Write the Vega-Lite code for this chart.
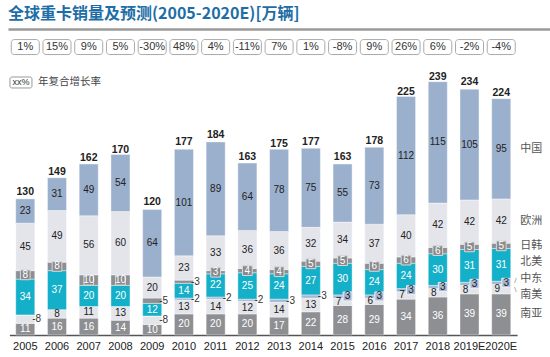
{
  "$schema": "https://vega.github.io/schema/vega-lite/v6.json",
  "width": 542,
  "height": 306,
  "autosize": {"type": "none"},
  "padding": {"left": 8, "top": 29, "right": 0, "bottom": 22},
  "background": "white",
  "title": {"text": "全球重卡销量及预测(2005-2020E)[万辆]", "anchor": "start", "frame": "group", "font": "Noto Sans CJK SC", "fontSize": 16, "fontWeight": "bold", "color": "#1d6ea6", "offset": 5},
  "config": {"view": {"stroke": null}, "font": "Liberation Sans Narrow, Liberation Sans, Noto Sans CJK SC"},
  "datasets": {
    "main": [
      {"year": "2005", "南亚": 11, "南美": 8, "中东": 0, "北美": 34, "日韩": 8, "欧洲": 45, "中国": 23},
      {"year": "2006", "南亚": 16, "南美": 8, "中东": 0, "北美": 37, "日韩": 8, "欧洲": 49, "中国": 31},
      {"year": "2007", "南亚": 16, "南美": 11, "中东": 0, "北美": 20, "日韩": 10, "欧洲": 56, "中国": 49},
      {"year": "2008", "南亚": 14, "南美": 13, "中东": 0, "北美": 20, "日韩": 10, "欧洲": 60, "中国": 54},
      {"year": "2009", "南亚": 10, "南美": 8, "中东": 0, "北美": 12, "日韩": 5, "欧洲": 20, "中国": 64},
      {"year": "2010", "南亚": 20, "南美": 13, "中东": 2, "北美": 14, "日韩": 3, "欧洲": 23, "中国": 101},
      {"year": "2011", "南亚": 20, "南美": 14, "中东": 2, "北美": 22, "日韩": 3, "欧洲": 33, "中国": 89},
      {"year": "2012", "南亚": 20, "南美": 12, "中东": 2, "北美": 25, "日韩": 4, "欧洲": 36, "中国": 64},
      {"year": "2013", "南亚": 17, "南美": 14, "中东": 3, "北美": 24, "日韩": 4, "欧洲": 36, "中国": 78},
      {"year": "2014", "南亚": 22, "南美": 13, "中东": 3, "北美": 27, "日韩": 5, "欧洲": 32, "中国": 75},
      {"year": "2015", "南亚": 28, "南美": 7, "中东": 3, "北美": 30, "日韩": 5, "欧洲": 34, "中国": 55},
      {"year": "2016", "南亚": 29, "南美": 6, "中东": 3, "北美": 24, "日韩": 6, "欧洲": 37, "中国": 73},
      {"year": "2017", "南亚": 34, "南美": 7, "中东": 3, "北美": 24, "日韩": 6, "欧洲": 40, "中国": 112},
      {"year": "2018", "南亚": 36, "南美": 8, "中东": 3, "北美": 30, "日韩": 6, "欧洲": 42, "中国": 115},
      {"year": "2019E", "南亚": 39, "南美": 8, "中东": 3, "北美": 31, "日韩": 5, "欧洲": 42, "中国": 105},
      {"year": "2020E", "南亚": 39, "南美": 9, "中东": 3, "北美": 31, "日韩": 5, "欧洲": 42, "中国": 95}
    ],
    "tot": [
      {"year": "2005", "total": 130, "growth": "1%"},
      {"year": "2006", "total": 149, "growth": "15%"},
      {"year": "2007", "total": 162, "growth": "9%"},
      {"year": "2008", "total": 170, "growth": "5%"},
      {"year": "2009", "total": 120, "growth": "-30%"},
      {"year": "2010", "total": 177, "growth": "48%"},
      {"year": "2011", "total": 184, "growth": "4%"},
      {"year": "2012", "total": 163, "growth": "-11%"},
      {"year": "2013", "total": 175, "growth": "7%"},
      {"year": "2014", "total": 177, "growth": "1%"},
      {"year": "2015", "total": 163, "growth": "-8%"},
      {"year": "2016", "total": 178, "growth": "9%"},
      {"year": "2017", "total": 225, "growth": "26%"},
      {"year": "2018", "total": 239, "growth": "6%"},
      {"year": "2019E", "total": 234, "growth": "-2%"},
      {"year": "2020E", "total": 224, "growth": "-4%"}
    ]
  },
  "resolve": {"scale": {"x": "independent"}, "axis": {"x": "independent"}},
  "layer": [
    {
      "data": {"values": [{"k": "line"}]},
      "mark": {"type": "point", "opacity": 0},
      "encoding": {
        "x": {"datum": 0, "type": "quantitative", "scale": {"domain": [0, 1], "nice": false}, "axis": {"orient": "top", "labels": false, "ticks": false, "grid": false, "title": null, "domain": true, "domainColor": "#9a9a9a", "domainWidth": 2.5}},
        "y": {"datum": 289.6, "type": "quantitative", "scale": {"domain": [0, 290], "nice": false}, "axis": null}
      }
    },
    {
      "layer": [
        {
          "data": {"name": "main"},
          "transform": [
            {"fold": ["南亚","南美","中东","北美","日韩","欧洲","中国"], "as": ["series","value"]},
            {"calculate": "indexof(['南亚','南美','中东','北美','日韩','欧洲','中国'], datum.series)", "as": "ord"},
            {"stack": "value", "groupby": ["year"], "sort": [{"field": "ord", "order": "ascending"}], "as": ["v0","v1"]},
            {"calculate": "(datum.v0+datum.v1)/2", "as": "mid"},
            {"calculate": "parseInt(datum.year)", "as": "yr"}
          ],
          "encoding": {
            "x": {
              "field": "year", "type": "nominal",
              "scale": {"domain": ["2005","2006","2007","2008","2009","2010","2011","2012","2013","2014","2015","2016","2017","2018","2019E","2020E"], "range": [1.4, 509.1], "paddingInner": 0.4, "paddingOuter": 0.2},
              "axis": {"title": null, "ticks": false, "domainColor": "#555", "domainWidth": 1.5, "labelAngle": 0, "labelFontSize": 11, "labelColor": "#222", "labelPadding": 5, "labelFont": "Liberation Sans Narrow, Liberation Sans"}
            }
          },
          "layer": [
            {
              "mark": {"type": "bar", "stroke": "white", "strokeWidth": 0.4},
              "encoding": {
                "y": {"field": "v0", "type": "quantitative", "scale": {"domain": [0, 290], "nice": false}, "axis": null},
                "y2": {"field": "v1"},
                "color": {"field": "series", "type": "nominal", "legend": null,
                  "scale": {"domain": ["南亚","南美","中东","北美","日韩","欧洲","中国"], "range": ["#8e8f93","#e4e5ea","#a7b8d4","#14b0c9","#8e8f93","#e4e5ea","#9bb0cd"]}}
              }
            },
            {
              "transform": [{"filter": "datum.series=='日韩' && !(datum.year=='2009' || datum.year=='2010')"}],
              "mark": {"type": "point", "shape": "square", "size": 95, "filled": true, "fill": "#8a8b8f", "stroke": "#d8d8d8", "strokeWidth": 1, "opacity": 1},
              "encoding": {"y": {"field": "mid", "type": "quantitative", "scale": {"domain": [0, 290], "nice": false}, "axis": null}}
            },
            {
              "transform": [{"filter": "datum.series=='中东' && datum.yr>=2015"}],
              "mark": {"type": "point", "shape": "square", "size": 80, "filled": true, "fill": "#a7b8d4", "stroke": "#eef0f5", "strokeWidth": 1, "opacity": 1, "xOffset": 5},
              "encoding": {"y": {"field": "mid", "type": "quantitative", "scale": {"domain": [0, 290], "nice": false}, "axis": null}}
            },
            {
              "transform": [{"filter": "datum.value>0 && datum.series!='中东' && !(datum.series=='南美' && (datum.year=='2005' || datum.year=='2009' || datum.yr>=2015)) && !(datum.series=='日韩' && (datum.year=='2009' || datum.year=='2010'))"}],
              "mark": {"type": "text", "fontSize": 10, "baseline": "middle"},
              "encoding": {
                "y": {"field": "mid", "type": "quantitative", "scale": {"domain": [0, 290], "nice": false}, "axis": null},
                "text": {"field": "value", "type": "quantitative"},
                "color": {"condition": {"test": "indexof(['南亚','北美','日韩'], datum.series) >= 0", "value": "#ffffff"}, "value": "#222222"}
              }
            },
            {
              "transform": [{"filter": "datum.series=='南美' && datum.yr>=2015"}],
              "mark": {"type": "text", "fontSize": 10, "baseline": "middle", "dx": -4, "color": "#222"},
              "encoding": {
                "y": {"field": "mid", "type": "quantitative", "scale": {"domain": [0, 290], "nice": false}, "axis": null},
                "text": {"field": "value", "type": "quantitative"}
              }
            },
            {
              "transform": [{"filter": "datum.series=='中东' && datum.yr>=2015"}],
              "mark": {"type": "text", "fontSize": 10, "baseline": "middle", "dx": 5, "color": "#222"},
              "encoding": {
                "y": {"field": "mid", "type": "quantitative", "scale": {"domain": [0, 290], "nice": false}, "axis": null},
                "text": {"field": "value", "type": "quantitative"}
              }
            },
            {
              "transform": [
                {"filter": "(datum.series=='南美' && (datum.year=='2005' || datum.year=='2009')) || (datum.series=='日韩' && (datum.year=='2009' || datum.year=='2010')) || (datum.series=='中东' && datum.yr>=2010 && datum.yr<=2014)"},
                {"calculate": "'-' + datum.value", "as": "lab"}
              ],
              "mark": {"type": "text", "fontSize": 10, "baseline": "middle", "align": "left", "dx": 7, "color": "#333"},
              "encoding": {
                "y": {"field": "mid", "type": "quantitative", "scale": {"domain": [0, 290], "nice": false}, "axis": null},
                "text": {"field": "lab", "type": "nominal"}
              }
            },
            {
              "transform": [{"filter": "datum.year=='2020E' && indexof(['中国','欧洲','日韩','南亚'], datum.series) >= 0"}],
              "mark": {"type": "text", "fontSize": 11, "baseline": "middle", "align": "left", "dx": 19, "color": "#555", "font": "Noto Sans CJK SC"},
              "encoding": {
                "y": {"field": "mid", "type": "quantitative", "scale": {"domain": [0, 290], "nice": false}, "axis": null},
                "text": {"field": "series", "type": "nominal"}
              }
            },
            {
              "transform": [{"filter": "datum.year=='2020E' && datum.series=='北美'"}],
              "mark": {"type": "text", "fontSize": 11, "baseline": "middle", "align": "left", "dx": 19, "dy": -3, "color": "#555", "font": "Noto Sans CJK SC"},
              "encoding": {
                "y": {"field": "mid", "type": "quantitative", "scale": {"domain": [0, 290], "nice": false}, "axis": null},
                "text": {"field": "series", "type": "nominal"}
              }
            },
            {
              "transform": [{"filter": "datum.year=='2020E' && datum.series=='中东'"}],
              "mark": {"type": "text", "fontSize": 11, "baseline": "middle", "align": "left", "dx": 19, "dy": -4, "color": "#555", "font": "Noto Sans CJK SC"},
              "encoding": {
                "y": {"field": "mid", "type": "quantitative", "scale": {"domain": [0, 290], "nice": false}, "axis": null},
                "text": {"field": "series", "type": "nominal"}
              }
            },
            {
              "transform": [{"filter": "datum.year=='2020E' && datum.series=='南美'"}],
              "mark": {"type": "text", "fontSize": 11, "baseline": "middle", "align": "left", "dx": 19, "dy": 6, "color": "#555", "font": "Noto Sans CJK SC"},
              "encoding": {
                "y": {"field": "mid", "type": "quantitative", "scale": {"domain": [0, 290], "nice": false}, "axis": null},
                "text": {"field": "series", "type": "nominal"}
              }
            },
            {
              "transform": [{"filter": "datum.year=='2020E' && datum.series=='中东'"}],
              "mark": {"type": "text", "fontSize": 8, "baseline": "middle", "align": "left", "dx": 13, "dy": -2, "color": "#888", "font": "Liberation Sans"},
              "encoding": {
                "y": {"field": "mid", "type": "quantitative", "scale": {"domain": [0, 290], "nice": false}, "axis": null},
                "text": {"value": "/"}
              }
            },
            {
              "transform": [{"filter": "datum.year=='2020E' && datum.series=='南美'"}],
              "mark": {"type": "text", "fontSize": 8, "baseline": "middle", "align": "left", "dx": 13, "dy": 1, "color": "#888", "font": "Liberation Sans"},
              "encoding": {
                "y": {"field": "mid", "type": "quantitative", "scale": {"domain": [0, 290], "nice": false}, "axis": null},
                "text": {"value": "\\"}
              }
            }
          ]
        },
        {
          "data": {"name": "tot"},
          "encoding": {
            "x": {"field": "year", "type": "nominal"}
          },
          "layer": [
            {
              "mark": {"type": "bar", "width": 28, "fill": "white", "stroke": "#aaaaaa", "strokeWidth": 1, "cornerRadius": 3},
              "encoding": {
                "y": {"datum": 265.8, "type": "quantitative", "scale": {"domain": [0, 290], "nice": false}, "axis": null},
                "y2": {"datum": 280.0}
              }
            },
            {
              "mark": {"type": "text", "fontSize": 11, "baseline": "middle", "color": "#333"},
              "encoding": {
                "y": {"datum": 272.9, "type": "quantitative", "scale": {"domain": [0, 290], "nice": false}, "axis": null},
                "text": {"field": "growth", "type": "nominal"}
              }
            },
            {
              "mark": {"type": "text", "fontSize": 10.5, "fontWeight": "bold", "baseline": "alphabetic", "dy": -3, "color": "#222"},
              "encoding": {
                "y": {"field": "total", "type": "quantitative", "scale": {"domain": [0, 290], "nice": false}, "axis": null},
                "text": {"field": "total", "type": "quantitative"}
              }
            }
          ]
        },
        {
          "data": {"values": [{"k": "xx%", "desc": "年复合增长率"}]},
          "layer": [
            {
              "mark": {"type": "bar", "width": 22, "xOffset": -4.3, "fill": "white", "stroke": "#999999", "strokeWidth": 1, "cornerRadius": 2},
              "encoding": {
                "x": {"datum": "2005", "type": "nominal"},
                "y": {"datum": 234.1, "type": "quantitative", "scale": {"domain": [0, 290], "nice": false}, "axis": null},
                "y2": {"datum": 244.5}
              }
            },
            {
              "mark": {"type": "text", "fontSize": 9, "baseline": "middle", "dx": -4.3, "color": "#333"},
              "encoding": {
                "x": {"datum": "2005", "type": "nominal"},
                "y": {"datum": 239.3, "type": "quantitative", "scale": {"domain": [0, 290], "nice": false}, "axis": null},
                "text": {"field": "k", "type": "nominal"}
              }
            },
            {
              "mark": {"type": "text", "fontSize": 10.5, "baseline": "middle", "align": "left", "dx": 12.7, "color": "#444", "font": "Noto Sans CJK SC"},
              "encoding": {
                "x": {"datum": "2005", "type": "nominal"},
                "y": {"datum": 239.3, "type": "quantitative", "scale": {"domain": [0, 290], "nice": false}, "axis": null},
                "text": {"field": "desc", "type": "nominal"}
              }
            }
          ]
        }
      ]
    }
  ]
}
